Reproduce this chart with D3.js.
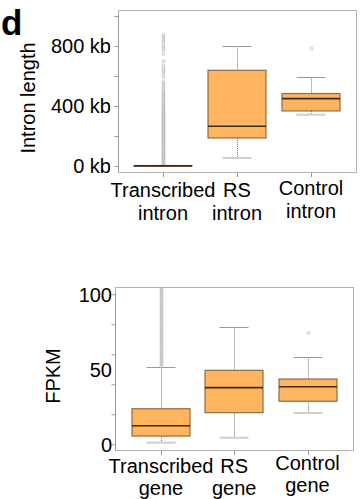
<!DOCTYPE html>
<html>
<head>
<meta charset="utf-8">
<script src="https://cdn.jsdelivr.net/npm/d3@7"></script>
<style>
	body { margin: 0; background: #fff; }
	svg { display: block; font-family: "Liberation Sans", Arial, sans-serif; }
</style>
</head>
<body>
<svg id="chart" width="363" height="499"></svg>
<script>
// intron length panel (kb)
var intronCats = ["Transcribed\nintron", "RS\nintron", "Control\nintron"];
var intronLow = [0, 53, 342];
var intronQ1 = [0, 187, 367];
var intronMed = [1, 265, 449];
var intronQ3 = [3, 638, 483];
var intronHigh = [8, 798, 591];
var intronOutliers = [
	[875, 862, 848, 832, 818, 800, 785, 770, 745, 700, 672, 655, 640, 628,
	 610, 590, 560, 548, 536, 522, 510, 498, 486, 478, 468, 458, 448, 438,
	 428, 418, 408, 400, 392, 385, 378, 370, 362, 355, 348, 340, 332, 325,
	 318, 310, 302, 295, 288, 280, 272, 265, 258, 250, 242, 235, 228, 220,
	 212, 205, 198, 190, 182, 175, 168, 160, 152, 145, 138, 130, 122, 115,
	 108, 100, 92, 85, 78, 70, 62, 55, 48, 40, 32, 25, 18, 12],
	[],
	[782]
];
var intronTicks = [0, 200, 400, 600, 800, 1000];
var intronTickLabels = { 0: "0 kb", 400: "400 kb", 800: "800 kb" };

// FPKM panel
var geneCats = ["Transcribed\ngene", "RS\ngene", "Control\ngene"];
var geneLow = [1.1, 4.4, 20.9];
var geneQ1 = [5.5, 21.1, 28.7];
var geneMed = [12.4, 37.8, 38.4];
var geneQ3 = [23.7, 49.3, 43.5];
var geneHigh = [51.3, 78, 58];
var geneOutliers = [
	[52, 53, 54, 55, 56, 57, 58, 59, 60, 61, 62, 63, 64, 65, 66, 67, 68, 69,
	 70, 71, 72, 73, 74, 75, 76, 77, 78, 79, 80, 81, 82, 83, 84, 85, 86, 87,
	 88, 89, 90, 91, 92, 93, 94, 95, 96, 97, 98, 99, 100, 101, 102, 103, 104, 105],
	[],
	[74.2]
];
var geneTicks = [0, 20, 40, 60, 80, 100];
var geneTickLabels = { 0: "0", 50: "50", 100: "100" };

var fill = "#ffb55f";
var edge = "#8e6d42";
var svg = d3.select("#chart");

var drawPanel = function(cfg)
{
	var g = svg.append("g");
	var stats = cfg.cats.map((c, i) => ({
		cat: c, low: cfg.low[i], q1: cfg.q1[i], med: cfg.med[i],
		q3: cfg.q3[i], high: cfg.high[i], out: cfg.out[i]
	}));

	var x = d3.scalePoint().domain(cfg.cats).range(cfg.xRange);
	var y = d3.scaleLinear().domain(cfg.yDomain).range(cfg.yRange);
	var f = cfg.frame;

	g.append("rect")
		.attr("x", f[0] + 0.5).attr("y", f[1] + 0.5)
		.attr("width", f[2] - f[0]).attr("height", f[3] - f[1])
		.attr("fill", "none").attr("stroke", "#b3b3b3");

	var clipId = "clip" + cfg.id;
	g.append("clipPath").attr("id", clipId).append("rect")
		.attr("x", f[0]).attr("y", f[1] + 1)
		.attr("width", f[2] - f[0]).attr("height", f[3] - f[1]);

	// y axis: ticks every step, labels on a few
	var yAxis = d3.axisLeft(y).tickValues(cfg.ticks).tickSize(4).tickFormat("");
	var ya = g.append("g").attr("transform", "translate(" + (f[0] + 0.5) + ",0)").call(yAxis);
	ya.select(".domain").attr("stroke", "#999").attr("d", "M0," + (y(cfg.ticks[cfg.ticks.length - 1]) - 1) + "V" + (f[3] + 0.5));
	ya.selectAll(".tick line").attr("stroke", "#999");

	g.selectAll("text.ylab").data(Object.keys(cfg.tickLabels)).enter()
		.append("text").attr("class", "ylab")
		.attr("x", cfg.labelX).attr("y", (d) => y(+d))
		.attr("dy", "0.36em").attr("text-anchor", "end")
		.attr("font-size", 20).text((d) => cfg.tickLabels[d]);

	// x axis ticks below the frame
	g.selectAll("line.xt").data(cfg.cats).enter().append("line")
		.attr("class", "xt")
		.attr("x1", (d) => Math.round(x(d)) + 0.5).attr("x2", (d) => Math.round(x(d)) + 0.5)
		.attr("y1", f[3] + 1).attr("y2", f[3] + 5)
		.attr("stroke", "#999");

	var xl = g.selectAll("text.xlab").data(cfg.cats).enter()
		.append("text").attr("class", "xlab")
		.attr("text-anchor", "middle").attr("font-size", 20)
		.attr("transform", (d, i) => "translate(" + x(d) + "," + (cfg.xLabelY + (i === 2 ? -2.5 : 0)) + ")");
	xl.selectAll("tspan").data((d) => d.split("\n")).enter().append("tspan")
		.attr("x", 0).attr("y", (d, i) => i * cfg.lineGap).text((d) => d);

	g.append("text")
		.attr("transform", "translate(" + cfg.titlePos[0] + "," + cfg.titlePos[1] + ") rotate(-90)")
		.attr("text-anchor", "middle").attr("font-size", 20)
		.text(cfg.title);

	var half = cfg.boxW / 2;
	var cap = cfg.boxW / 4;
	var box = g.append("g").attr("clip-path", "url(#" + clipId + ")")
		.selectAll("g.box").data(stats).enter().append("g")
		.attr("class", "box")
		.attr("transform", (d) => "translate(" + Math.round(x(d.cat)) + ",0)");

	// whiskers
	box.append("line").attr("x1", 0.5).attr("x2", 0.5)
		.attr("y1", (d) => y(d.high)).attr("y2", (d) => y(d.q3))
		.attr("stroke", "#777").attr("stroke-dasharray", "1,1");
	box.append("line").attr("x1", 0.5).attr("x2", 0.5)
		.attr("y1", (d) => y(d.q1)).attr("y2", (d) => y(d.low))
		.attr("stroke", "#777").attr("stroke-dasharray", "1,1");
	box.append("line").attr("x1", -cap).attr("x2", cap)
		.attr("y1", (d) => Math.round(y(d.high)) + 0.5).attr("y2", (d) => Math.round(y(d.high)) + 0.5)
		.attr("stroke", "#9a9a9a");
	box.append("line").attr("x1", -cap).attr("x2", cap)
		.attr("y1", (d) => y(d.low)).attr("y2", (d) => y(d.low))
		.attr("stroke", "#cfcfcf").attr("stroke-width", 2);

	// outliers
	box.selectAll("circle").data((d) => d.out).enter().append("circle")
		.attr("cx", 0.5).attr("cy", (d) => y(d)).attr("r", 1.4)
		.attr("fill", "none").attr("stroke", "#bdbdbd").attr("stroke-width", 0.9);

	box.append("rect")
		.attr("x", -half).attr("width", cfg.boxW)
		.attr("y", (d) => y(d.q3))
		.attr("height", (d) => Math.max(0, y(d.q1) - y(d.q3)))
		.attr("fill", fill).attr("stroke", edge).attr("stroke-width", 1.2);
	box.append("line").attr("x1", -half).attr("x2", half)
		.attr("y1", (d) => y(d.med)).attr("y2", (d) => y(d.med))
		.attr("stroke", "#3b2c1c").attr("stroke-width", 1.6);
};

drawPanel({
	id: 1, title: "Intron length", titlePos: [35, 98],
	cats: intronCats, low: intronLow, q1: intronQ1, med: intronMed,
	q3: intronQ3, high: intronHigh, out: intronOutliers,
	ticks: intronTicks, tickLabels: intronTickLabels,
	yDomain: [0, 1000], yRange: [166, 16],
	xRange: [163, 311], frame: [118, 10, 356, 172],
	boxW: 58, labelX: 111, xLabelY: 197, lineGap: 23
});

drawPanel({
	id: 2, title: "FPKM", titlePos: [60, 376],
	cats: geneCats, low: geneLow, q1: geneQ1, med: geneMed,
	q3: geneQ3, high: geneHigh, out: geneOutliers,
	ticks: geneTicks, tickLabels: geneTickLabels,
	yDomain: [0, 100], yRange: [444.3, 294.3],
	xRange: [161, 307.5], frame: [115, 287, 353, 450],
	boxW: 58, labelX: 112, xLabelY: 472.5, lineGap: 22
});

svg.append("text").attr("x", 1).attr("y", 35)
	.attr("font-size", 35).attr("font-weight", "bold").text("d");
</script>
</body>
</html>
